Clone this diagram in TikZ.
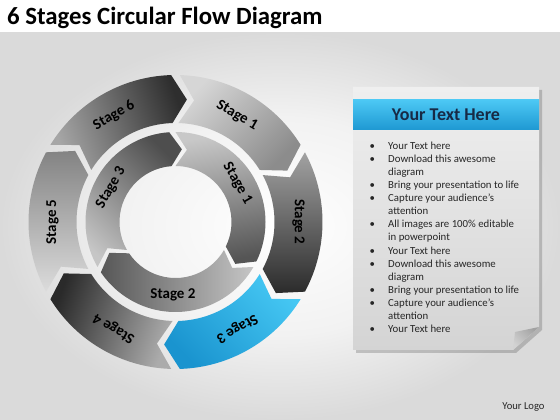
\documentclass[tikz,border=0pt]{standalone}
\usepackage{fontspec}
\setmainfont{Carlito}
\definecolor{bgc}{HTML}{FFFFFF}
\definecolor{bgm}{HTML}{F2F2F2}
\definecolor{bge}{HTML}{DADADA}
\definecolor{oSixA}{HTML}{A6A6A6}\definecolor{oSixB}{HTML}{2E2E2E}
\definecolor{oOneA}{HTML}{D6D6D6}\definecolor{oOneB}{HTML}{8C8C8C}
\definecolor{oTwoA}{HTML}{A2A2A2}\definecolor{oTwoB}{HTML}{2B2B2B}
\definecolor{oThrA}{HTML}{45C7F3}\definecolor{oThrB}{HTML}{1A94CF}
\definecolor{oFouA}{HTML}{ABABAB}\definecolor{oFouB}{HTML}{2A2A2A}
\definecolor{oFivA}{HTML}{DCDCDC}\definecolor{oFivB}{HTML}{838383}
\definecolor{iThrA}{HTML}{C6C6C6}\definecolor{iThrB}{HTML}{4E4E4E}
\definecolor{iOneA}{HTML}{C8C8C8}\definecolor{iOneB}{HTML}{555555}
\definecolor{iTwoA}{HTML}{C6C6C6}\definecolor{iTwoB}{HTML}{575757}
\definecolor{pTop}{HTML}{EFEFEF}\definecolor{pBot}{HTML}{D4D4D4}
\definecolor{hTop}{HTML}{4CC8F4}\definecolor{hBot}{HTML}{1E98D2}
\definecolor{flapA}{HTML}{A2A2A2}\definecolor{flapB}{HTML}{D2D2D2}
\definecolor{navy}{HTML}{172A45}
\definecolor{bodytxt}{HTML}{262626}
\pgfdeclareradialshading{bgshade}{\pgfpoint{0bp}{0bp}}{color(0bp)=(bgc); color(14bp)=(bgm); color(25bp)=(bge); color(40bp)=(bge)}
\newcommand\chevseg[6]{%
  \pgfmathsetmacro\csA{#1-\cgap}%
  \pgfmathsetmacro\csB{#2+\cgap}%
  \pgfmathsetmacro\csT{\csB-#5}%
  \pgfmathsetmacro\csN{\csA-#5}%
  \pgfmathsetmacro\csM{(#3+#4)/2}%
  \shade[#6] (\csA:#4pt) arc[start angle=\csA, end angle=\csB, radius=#4pt]
    -- (\csT:\csM pt) -- (\csB:#3pt)
    arc[start angle=\csB, end angle=\csA, radius=#3pt]
    -- (\csN:\csM pt) -- cycle;}
\begin{document}
\begin{tikzpicture}[x=1pt,y=1pt,
  lbl/.style={font=\fontsize{15}{17}\selectfont\bfseries, text=black, inner sep=0pt},
  bodyline/.style={font=\fontsize{10.8}{13}\selectfont, text=bodytxt, inner sep=0pt, anchor=base west}]
\useasboundingbox (0,0) rectangle (560,420);
\shade[shading=bgshade] (0,0) rectangle (560,388);
\fill[white] (0,388) rectangle (560,420);
\node[font=\fontsize{24.8}{28}\selectfont\bfseries, anchor=base west, inner sep=0pt] (title) at (7,395) {6 Stages Circular Flow Diagram};
% circular diagram
\begin{scope}[shift={(175.5,198)}]
  \def\cgap{1.7}
  \chevseg{150}{90}{99}{147}{7}{left color=oSixA, right color=oSixB, shading angle=110}
  \chevseg{90}{30}{99}{147}{7}{left color=oOneA, right color=oOneB, shading angle=45}
  \chevseg{30}{-30}{99}{147}{7}{left color=oTwoA, right color=oTwoB, shading angle=0}
  \chevseg{-30}{-90}{99}{147}{7}{left color=oThrA, right color=oThrB, shading angle=-45}
  \chevseg{-90}{-150}{99}{147}{7}{left color=oFouA, right color=oFouB, shading angle=-110}
  \chevseg{210}{150}{99}{147}{7}{left color=oFivA, right color=oFivB, shading angle=-180}
  \def\cgap{2}
  \chevseg{212}{92}{56}{90}{9}{left color=iThrA, right color=iThrB, shading angle=135}
  \chevseg{92}{-28}{56}{90}{9}{left color=iOneA, right color=iOneB, shading angle=10}
  \chevseg{-28}{-148}{56}{90}{9}{left color=iTwoA, right color=iTwoB, shading angle=-90}
  \node[lbl, rotate=-30] (o1) at (60:123) {Stage 1};
  \node[lbl, rotate=-90] (o2) at (0:123) {Stage 2};
  \node[lbl, rotate=-150] (o3) at (-60:123) {Stage 3};
  \node[lbl, rotate=-210] (o4) at (-120:123) {Stage 4};
  \node[lbl, rotate=90] (o5) at (180:123) {Stage 5};
  \node[lbl, rotate=30] (o6) at (120:123) {Stage 6};
  \node[lbl, rotate=-60] (i1) at (32:73) {Stage 1};
  \node[lbl] (i2) at (-92:73) {Stage 2};
  \node[lbl, rotate=60] (i3) at (152:73) {Stage 3};
\end{scope}
% text panel
\fill[black, opacity=0.18] (356,67) -- (516,67) -- (542,90) -- (542,330) -- (356,330) -- cycle;
\shade[top color=pTop, bottom color=pBot] (353,333) -- (539,333) -- (539,93) -- (513,70) -- (353,70) -- cycle;
\shade[top color=hTop, bottom color=hBot] (353,290) rectangle (539,320);
\shade[left color=flapA, right color=flapB, shading angle=-45] (539,93) -- (515,88) -- (513,70) -- cycle;
\node[font=\fontsize{18}{20}\selectfont\bfseries, text=navy, inner sep=0pt] (head) at (446,305) {Your Text Here};
\foreach \i/\b/\t in {1/1/Your Text here, 2/1/Download this awesome, 3/0/diagram, 4/1/Bring your presentation to life, 5/1/Capture your audience’s, 6/0/attention, 7/1/All images are 100\% editable, 8/0/in powerpoint, 9/1/Your Text here, 10/1/Download this awesome, 11/0/diagram, 12/1/Bring your presentation to life, 13/1/Capture your audience’s, 14/0/attention, 15/1/Your Text here}{
  \pgfmathsetmacro\yy{270.5-13.07*(\i-1)}
  \node[bodyline] (line\i) at (388,\yy) {\t};
  \ifnum\b=1 \node[bodyline] (bul\i) at (369.5,\yy) {•};\fi
}
\node[font=\fontsize{10.6}{12}\selectfont, text=bodytxt, inner sep=0pt] (logo) at (523.5,13) {Your Logo};
\end{tikzpicture}
\end{document}
